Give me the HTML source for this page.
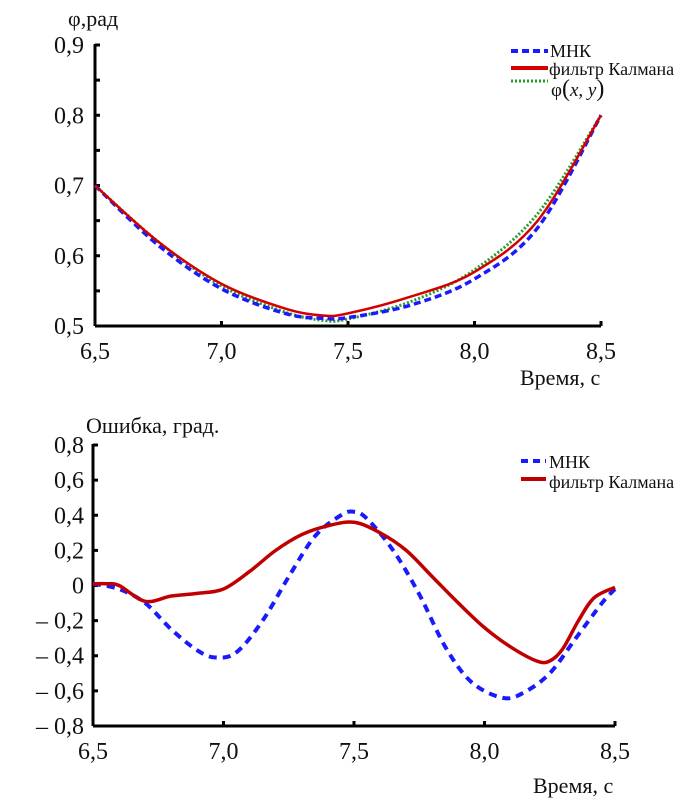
<!DOCTYPE html>
<html><head><meta charset="utf-8"><style>
body{margin:0;background:#fff}
svg{display:block}
text{font-family:"Liberation Serif",serif;fill:#111}
</style></head><body>
<svg id="s" width="694" height="802">
<text x="68" y="26" font-size="22">φ,рад</text>
<text x="520" y="385" font-size="22">Время, с</text>
<text x="86" y="433" font-size="22">Ошибка, град.</text>
<text x="533" y="793" font-size="22">Время, с</text>
<g>
<line x1="511" y1="51" x2="548" y2="51" stroke="#1a1aff" stroke-width="4" stroke-dasharray="7,4"/>
<text x="550" y="57" font-size="18">МНК</text>
<line x1="511" y1="68" x2="548" y2="68" stroke="#d40000" stroke-width="4"/>
<text x="549" y="75" font-size="18">фильтр Калмана</text>
<line x1="511" y1="81" x2="548" y2="81" stroke="#2a9a2a" stroke-width="3" stroke-dasharray="2,2"/>
<text x="551" y="96" font-size="19">φ<tspan font-size="24">(</tspan><tspan font-style="italic">x</tspan>, <tspan font-style="italic">y</tspan><tspan font-size="24">)</tspan></text>
</g>
<g>
<line x1="521" y1="461" x2="546" y2="461" stroke="#1a1aff" stroke-width="4" stroke-dasharray="7,5"/>
<text x="549" y="468" font-size="18">МНК</text>
<line x1="521" y1="479" x2="546" y2="479" stroke="#c00000" stroke-width="4"/>
<text x="549" y="488" font-size="18">фильтр Калмана</text>
</g>
</svg>
<script>
const topX=[6.5,6.75,7.0,7.25,7.4,7.5,7.75,8.0,8.25,8.5];
const topMNK=[0.70,0.615,0.553,0.518,0.511,0.512,0.53,0.567,0.64,0.80];
const topKalman=[0.70,0.62,0.56,0.525,0.515,0.518,0.542,0.577,0.65,0.80];
const topPhi=[0.70,0.62,0.557,0.52,0.508,0.51,0.535,0.58,0.66,0.80];
const topYTicks=["0,5","0,6","0,7","0,8","0,9"];
const topYVals=[0.5,0.6,0.7,0.8,0.9];
const xTickVals=[6.5,7.0,7.5,8.0,8.5];
const xTickLabels=["6,5","7,0","7,5","8,0","8,5"];
const botMNKX=[6.5,6.6,6.7,6.8,6.9,6.97,7.05,7.15,7.25,7.35,7.45,7.5,7.55,7.65,7.75,7.85,7.95,8.07,8.15,8.25,8.35,8.45,8.5];
const botMNK=[0.01,-0.02,-0.1,-0.25,-0.37,-0.41,-0.38,-0.2,0.05,0.28,0.4,0.42,0.38,0.2,-0.05,-0.35,-0.55,-0.64,-0.61,-0.5,-0.3,-0.1,-0.02];
const botKX=[6.5,6.55,6.6,6.7,6.8,6.9,7.0,7.1,7.2,7.3,7.4,7.5,7.6,7.7,7.8,7.9,8.0,8.1,8.2,8.25,8.3,8.36,8.42,8.5];
const botKalman=[0.01,0.01,0.0,-0.09,-0.06,-0.045,-0.02,0.08,0.2,0.29,0.34,0.36,0.3,0.2,0.05,-0.1,-0.24,-0.35,-0.43,-0.43,-0.36,-0.2,-0.07,-0.01];
const botYVals=[-0.8,-0.6,-0.4,-0.2,0,0.2,0.4,0.6,0.8];
const botYTicks=["– 0,8","– 0,6","– 0,4","– 0,2","0","0,2","0,4","0,6","0,8"];

const NS="http://www.w3.org/2000/svg",svg=document.getElementById('s');
function mk(t,a,p){const e=document.createElementNS(NS,t);for(const k in a)e.setAttribute(k,a[k]);(p||svg).appendChild(e);return e;}
function path(xs,ys,sx,sy){const P=xs.map((x,i)=>[sx(x),sy(ys[i])]);let d='M'+P[0][0]+','+P[0][1];
for(let i=0;i<P.length-1;i++){const p0=P[i-1]||P[i],p1=P[i],p2=P[i+1],p3=P[i+2]||p2;
d+=' C'+(p1[0]+(p2[0]-p0[0])/6)+','+(p1[1]+(p2[1]-p0[1])/6)+' '+(p2[0]-(p3[0]-p1[0])/6)+','+(p2[1]-(p3[1]-p1[1])/6)+' '+p2[0]+','+p2[1];}return d;}
function axes(name,x0,x1,y0,y1,sx,sy,yv,yl,ylx){
 const g=mk('g',{});
 mk('line',{x1:x0,y1:y0,x2:x0,y2:y1,stroke:'#000','stroke-width':3},g);
 mk('line',{x1:x0,y1:y0,x2:x1,y2:y0,stroke:'#000','stroke-width':3},g);
 yv.forEach((v,i)=>{const y=sy(v);mk('line',{x1:x0,y1:y,x2:x0+5,y2:y,stroke:'#000','stroke-width':3},g);
  const t=mk('text',{x:ylx,y:y+8,'font-size':24,'text-anchor':'end'},g);t.textContent=yl[i];
  });
 xTickVals.forEach((v,i)=>{const x=sx(v);mk('line',{x1:x,y1:y0,x2:x,y2:y0-5,stroke:'#000','stroke-width':3},g);
  const t=mk('text',{x:x,y:y0+33,'font-size':24,'text-anchor':'middle'},g);t.textContent=xTickLabels[i];
  });
}
const tsx=v=>95+(v-6.5)*253, tsy=v=>326-(v-0.5)*702.5;
const topMid=[0.55,0.65,0.75,0.85];
axes('top',95,601,326,44,tsx,tsy,topYVals,topYTicks,84);
topMid.forEach(v=>mk('line',{x1:95,y1:tsy(v),x2:100,y2:tsy(v),stroke:'#000','stroke-width':3}));
let e=mk('path',{d:path(topX,topPhi,tsx,tsy),fill:'none',stroke:'#2a9a2a','stroke-width':3,'stroke-dasharray':'2,2'});

e=mk('path',{d:path(topX,topMNK,tsx,tsy),fill:'none',stroke:'#1a1aff','stroke-width':3.5,'stroke-dasharray':'7,4'});

e=mk('path',{d:path(topX,topKalman,tsx,tsy),fill:'none',stroke:'#d40000','stroke-width':2.5});

const bsx=v=>93+(v-6.5)*261, bsy=v=>585.5-v*175.6;
axes('bottom',93,615,726,444,bsx,bsy,botYVals,botYTicks,84);
e=mk('path',{d:path(botMNKX,botMNK,bsx,bsy),fill:'none',stroke:'#1a1aff','stroke-width':4,'stroke-dasharray':'8,6'});

e=mk('path',{d:path(botKX,botKalman,bsx,bsy),fill:'none',stroke:'#c00000','stroke-width':3.5});

</script>
</body></html>
